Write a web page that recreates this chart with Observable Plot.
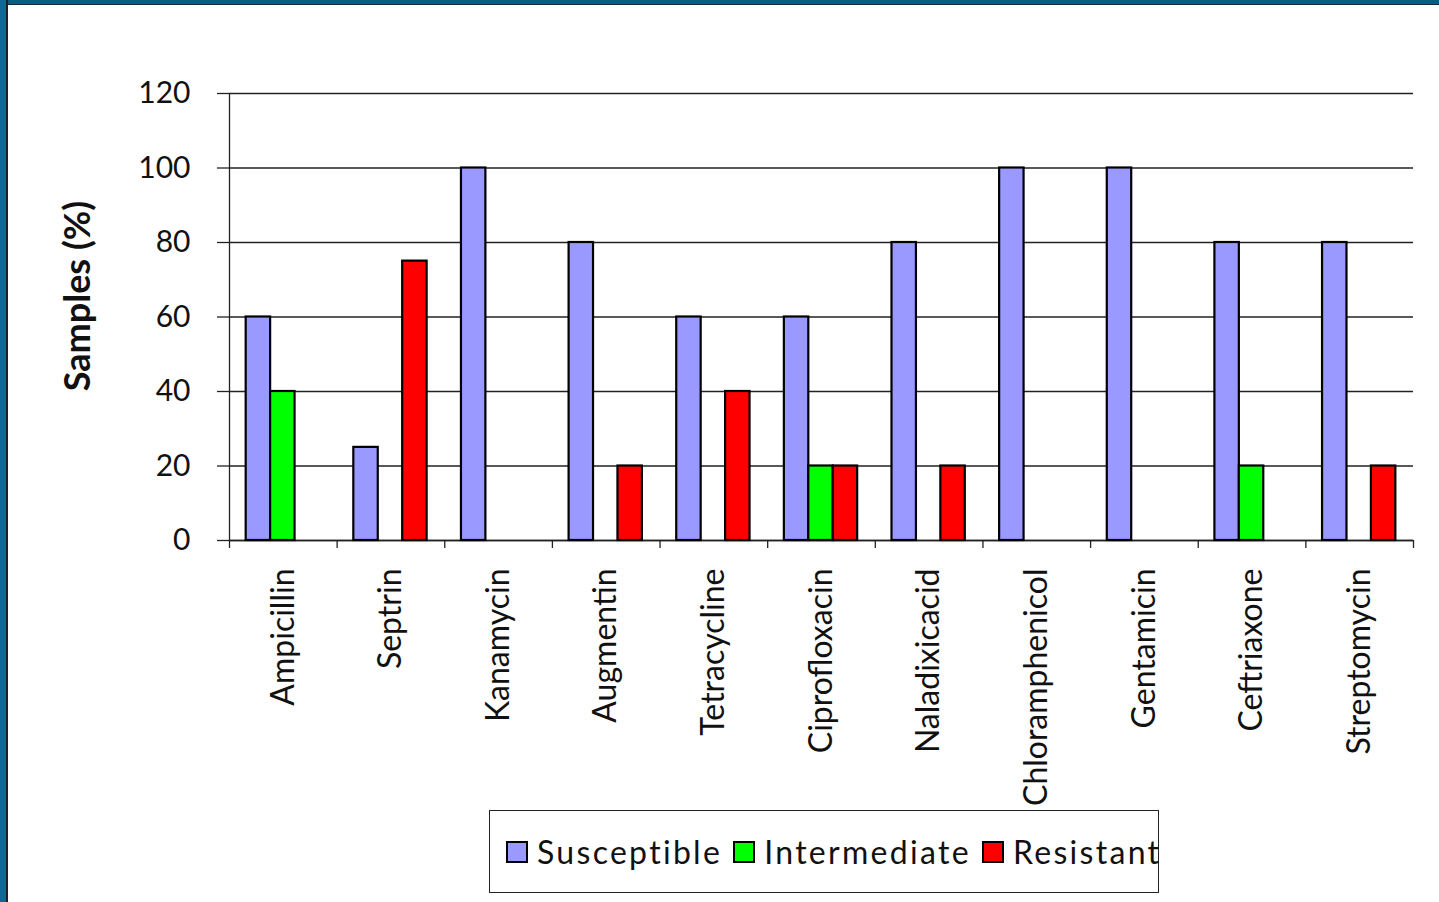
<!DOCTYPE html>
<html>
<head>
<meta charset="utf-8">
<script src="https://cdn.jsdelivr.net/npm/d3@7"></script>
<script src="https://cdn.jsdelivr.net/npm/@observablehq/plot@0.6"></script>
<style>
  html, body { margin: 0; padding: 0; background: #fff; }
  #page { position: relative; width: 1439px; height: 902px; overflow: hidden; background: #fff; font-family: Lato, "Noto Sans", sans-serif; }
  .edge-top { position: absolute; left: 0; top: 0; width: 1439px; height: 4px; background: #0b5a84; border-bottom: 1.5px solid #1b2a33; }
  .edge-left { position: absolute; left: 0; top: 0; width: 6px; height: 902px; background: #12668f; border-right: 2px solid #14232c; }
  #chart { position: absolute; left: 0; top: 0; }
  #legend { position: absolute; left: 489px; top: 810px; width: 670px; height: 83px; border: 1.3px solid #222; box-sizing: border-box;
            display: flex; align-items: center; padding-left: 16px; font-size: 32px; letter-spacing: 2.3px; color: #111; white-space: nowrap; }
  #legend .item { display: flex; align-items: center; margin-right: 11px; }
  #legend .sw { width: 18px; height: 18px; border: 2px solid #000; margin-right: 9px; }
</style>
</head>
<body>
<div id="page">
  <div id="chart"></div>
  <div id="legend"></div>
  <div class="edge-top"></div>
  <div class="edge-left"></div>
</div>
<script>
// Antibiotic susceptibility of the isolates, percentage of samples per class
const drugs = ["Ampicillin", "Septrin", "Kanamycin", "Augmentin", "Tetracycline", "Ciprofloxacin",
               "Naladixicacid", "Chloramphenicol", "Gentamicin", "Ceftriaxone", "Streptomycin"];
const series = ["Susceptible", "Intermediate", "Resistant"];
const susceptible  = [60, 25, 100, 80, 60, 60, 80, 100, 100, 80, 80];
const intermediate = [40,  0,   0,  0,  0, 20,  0,   0,   0, 20,  0];
const resistant    = [ 0, 75,   0, 20, 40, 20, 20,   0,   0,  0, 20];
const colors = ["#9999ff", "#00ff00", "#ff0000"];
const yTicks = [0, 20, 40, 60, 80, 100, 120];

const values = [susceptible, intermediate, resistant];
const rows = [];
drugs.forEach((drug, i) => {
  series.forEach((s, k) => {
    const v = values[k][i];
    if (v > 0) rows.push({drug, i, series: s, k, value: v});
  });
});

// each drug occupies one unit on x; the three series sit side by side inside it
const groupStart = 0.155, barW = 0.227;
const font = "Lato, 'Noto Sans', sans-serif";

const chart = Plot.plot({
  width: 1439,
  height: 805,
  marginLeft: 229,
  marginRight: 26,
  marginTop: 93,
  marginBottom: 265,
  style: {fontFamily: font, fontSize: "30px", color: "#111", background: "transparent"},
  x: {domain: [0, drugs.length]},
  y: {domain: [0, 120]},
  color: {domain: series, range: colors},
  marks: [
    Plot.gridY(yTicks, {stroke: "#222", strokeOpacity: 1, strokeWidth: 1.3}),
    Plot.axisY(yTicks, {tickSize: 12, tickPadding: 27, stroke: "#222", strokeWidth: 1.3, label: null, fontSize: 30}),
    Plot.axisX(d3.range(drugs.length + 1), {tickSize: 8, stroke: "#222", strokeWidth: 1.3, tickFormat: () => "", label: null}),
    Plot.axisX(d3.range(drugs.length).map(i => i + 0.5), {
      tickSize: 0, tickPadding: 28, tickRotate: -90, label: null, fontSize: 32,
      tickFormat: v => drugs[Math.floor(v)]
    }),
    Plot.ruleY([0], {stroke: "#222", strokeWidth: 1.3}),
    Plot.ruleX([0], {stroke: "#222", strokeWidth: 1.3}),
    Plot.rectY(rows, {
      x1: d => d.i + groupStart + d.k * barW,
      x2: d => d.i + groupStart + (d.k + 1) * barW,
      y1: 0,
      y2: "value",
      fill: "series",
      stroke: "#000",
      strokeWidth: 2.2
    }),
    Plot.text(["Samples (%)"], {
      frameAnchor: "left", textAnchor: "middle", dx: -151, dy: -21, rotate: -90,
      fontWeight: "bold", fontSize: 36, fill: "#111"
    })
  ]
});
document.getElementById("chart").appendChild(chart);

const legend = document.getElementById("legend");
series.forEach((s, k) => {
  const item = document.createElement("div");
  item.className = "item";
  const sw = document.createElement("span");
  sw.className = "sw";
  sw.style.background = colors[k];
  const label = document.createElement("span");
  label.textContent = s;
  item.append(sw, label);
  legend.appendChild(item);
});
</script>
</body>
</html>
